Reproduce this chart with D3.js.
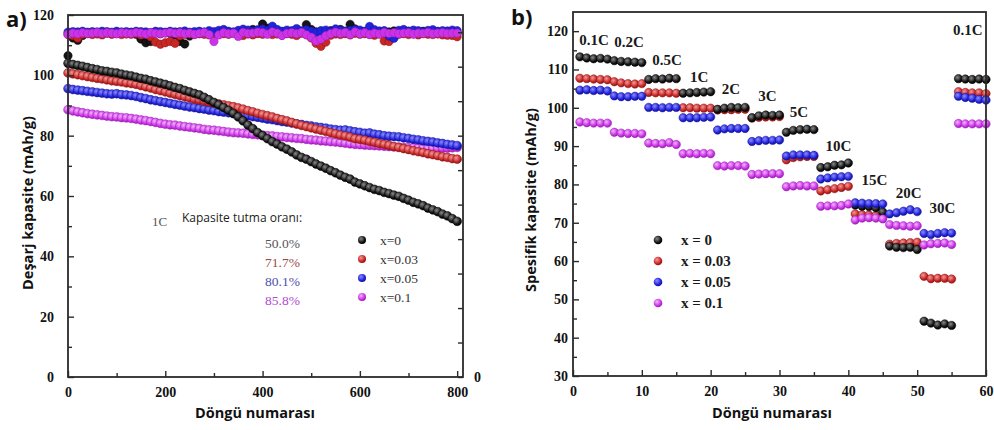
<!DOCTYPE html>
<html>
<head>
<meta charset="utf-8">
<script src="https://cdn.jsdelivr.net/npm/d3@7"></script>
<style>
  html, body { margin: 0; padding: 0; background: #fff; }
  svg { display: block; }
</style>
</head>
<body>
<svg id="chart" width="994" height="430"></svg>
<script>
// ---------- Panel a: long-term cycling at 1C (every 10th cycle) ----------
const cyclesA = d3.range(0, 801, 10);

const capA_x0 = [104.0,103.6,103.3,103.0,102.6,102.2,101.9,101.5,101.3,101.0,
  100.8,100.4,100.1,99.8,99.4,99.0,98.7,98.2,97.8,97.4,
  97.0,96.5,96.0,95.6,95.0,94.5,94.0,93.5,92.7,91.9,
  91.0,90.2,89.3,88.4,87.4,86.2,84.9,83.5,82.3,81.0,
  80.0,79.0,78.0,77.2,76.3,75.5,74.6,73.6,72.8,72.2,
  71.4,70.6,69.9,69.2,68.4,67.7,66.9,66.2,65.6,64.6,
  64.0,63.4,62.8,62.2,61.8,61.2,60.8,60.3,59.9,59.2,
  58.6,57.9,57.4,56.8,56.0,55.4,54.8,54.0,53.4,52.5,51.6];
const capA_x003 = [100.8,100.5,100.2,99.9,99.6,99.3,99.0,98.8,98.5,98.2,
  98.0,97.8,97.5,97.3,97.0,96.6,96.2,95.8,95.3,94.9,
  94.5,94.1,93.7,93.3,92.9,92.5,92.1,91.8,91.5,91.1,
  90.8,90.5,90.2,89.9,89.6,89.2,88.8,88.3,87.9,87.4,
  87.0,86.6,86.2,85.7,85.3,84.9,84.4,83.9,83.4,83.0,
  82.6,82.2,81.8,81.4,81.0,80.6,80.2,79.9,79.5,79.0,
  78.8,78.5,78.1,77.8,77.4,77.1,76.8,76.4,76.1,75.7,
  75.4,75.0,74.7,74.4,74.0,73.7,73.4,73.0,72.8,72.4,72.2];
const capA_x005 = [95.6,95.3,95.1,94.9,94.7,94.5,94.3,94.1,93.9,93.8,
  93.9,93.6,93.5,93.3,93.0,92.6,92.3,91.9,91.6,91.3,
  91.0,90.7,90.4,90.1,89.8,89.5,89.3,89.0,88.8,88.5,
  88.3,88.0,87.8,87.6,87.3,87.1,86.8,86.6,86.3,86.1,
  85.8,85.5,85.3,85.0,84.7,84.5,84.2,83.9,83.7,83.4,
  83.2,82.9,82.7,82.5,82.2,82.0,81.8,81.9,81.6,81.3,
  81.1,80.8,80.9,80.5,80.3,80.0,79.8,79.7,79.6,79.3,
  79.1,78.8,78.6,78.3,78.1,77.9,77.6,77.4,77.1,76.9,76.7];
const capA_x01 = [88.6,88.2,87.9,87.6,87.3,87.1,86.9,86.7,86.5,86.3,
  86.2,86.0,85.9,85.7,85.5,85.2,85.0,84.7,84.4,84.1,
  83.8,83.6,83.5,83.2,83.0,82.8,82.6,82.4,82.1,81.9,
  81.8,81.6,81.4,81.2,81.0,80.9,80.8,80.6,80.4,80.3,
  80.2,80.0,79.9,79.7,79.6,79.4,79.3,79.1,79.0,78.8,
  78.6,78.5,78.3,78.2,78.0,77.9,77.7,77.5,77.3,77.1,
  77.0,76.9,76.8,76.7,76.6,76.5,76.4,76.3,76.2,76.1,
  76.0,76.0,75.9,75.9,75.8,75.8,75.8,75.9,75.9,76.0,76.1];

// Coulombic efficiency band (read on the left axis scale)
const effA_x0 = [106.5,112.4,111.6,113.2,114.0,113.8,114.1,113.9,114.2,113.8,
  114.0,114.1,113.9,114.2,113.6,112.0,110.8,111.2,114.0,113.8,
  114.1,113.9,113.4,111.2,110.4,113.0,114.1,113.8,114.2,114.0,
  113.9,114.3,114.1,113.8,114.2,114.6,114.0,114.3,115.2,114.8,
  117.0,115.6,114.2,114.6,114.0,114.4,114.2,115.0,114.6,116.8,
  115.2,114.4,114.6,114.3,114.8,114.5,115.2,114.6,116.9,115.4,
  114.6,114.3,114.5,114.8,114.2,114.6,114.4,114.7,114.3,114.5,
  114.6,114.2,114.4,114.6,114.3,114.5,114.4,114.2,114.5,114.3,114.0];
const effA_x003 = [113.5,113.2,112.4,113.6,113.8,113.5,113.7,113.4,113.9,113.6,
  113.8,113.5,113.7,113.6,113.9,113.4,113.7,112.8,111.0,110.3,
  110.8,111.2,110.6,113.1,113.6,113.8,113.5,113.9,113.6,113.4,
  113.7,113.5,113.8,113.6,113.9,113.5,113.2,113.7,113.4,113.8,
  113.6,113.9,113.5,113.7,113.3,113.8,113.6,113.2,113.9,113.5,
  112.4,110.6,109.6,111.0,113.3,113.7,113.5,113.8,113.4,113.9,
  113.6,113.8,113.5,113.3,113.7,111.4,111.2,112.6,113.6,113.8,
  113.5,113.7,113.4,113.8,113.6,113.5,113.7,113.4,113.3,113.2,112.8];
const effA_x005 = [114.3,114.5,114.4,114.6,114.3,114.5,114.4,114.6,114.5,114.3,
  114.6,114.4,114.5,114.3,114.6,114.5,114.4,114.2,114.6,114.5,
  114.3,114.6,114.4,114.5,114.7,114.3,114.5,114.6,114.4,114.8,
  114.5,114.9,115.2,114.6,114.4,114.9,115.3,115.0,114.6,115.1,
  115.4,114.8,116.3,115.2,114.6,115.0,114.8,115.5,114.7,115.1,
  114.6,114.3,114.8,115.0,114.5,115.4,115.0,114.6,114.9,115.2,
  115.0,114.6,116.2,115.1,114.7,114.8,113.0,112.3,114.9,115.2,
  114.6,115.0,114.8,114.4,114.9,115.1,114.6,114.8,114.7,115.0,114.8];
const effA_x01 = [113.6,114.0,113.8,114.1,113.9,114.0,114.2,113.9,114.1,114.0,
  113.8,114.1,114.0,113.9,114.2,114.0,113.7,114.1,113.9,113.8,
  114.0,114.2,113.9,114.1,113.8,114.0,113.6,113.9,114.2,113.5,
  111.2,113.4,114.1,113.8,114.0,112.9,114.2,113.9,114.0,114.3,
  114.1,113.6,114.4,114.0,113.2,113.9,114.1,113.8,114.2,113.4,
  112.6,111.4,112.0,113.1,113.8,114.3,113.9,114.2,113.5,114.4,
  113.8,114.1,113.6,114.0,113.7,114.2,113.9,114.1,113.8,114.0,
  114.1,113.7,114.0,113.9,114.2,113.8,114.0,114.1,113.9,114.0,114.0];

const seriesNamesA = ["x=0", "x=0.03", "x=0.05", "x=0.1"];
const retentionA = ["50.0%", "71.7%", "80.1%", "85.8%"];
const ticksAX = [0, 200, 400, 600, 800];
const ticksAY = [0, 20, 40, 60, 80, 100, 120];

// ---------- Panel b: rate capability ----------
const cyclesB = d3.range(1, 61);
const rateNames = ["0.1C","0.2C","0.5C","1C","2C","3C","5C","10C","15C","20C","30C","0.1C"];

const capB_x0 = [113.3,113.0,112.8,112.9,112.7, 112.3,112.1,112.0,111.9,111.8,
  107.4,107.6,107.5,107.7,107.6, 103.8,103.9,104.0,104.1,104.2,
  99.6,99.9,100.1,100.0,100.1, 97.4,97.9,98.1,98.0,98.1,
  93.6,94.1,94.3,94.4,94.3, 84.4,84.6,85.0,85.1,85.6,
  74.6,74.3,74.2,73.9,72.8, 63.9,63.6,63.5,63.6,63.0,
  44.3,43.8,43.3,43.6,43.2, 107.6,107.5,107.4,107.5,107.4];
const capB_x003 = [107.7,107.6,107.5,107.4,107.3, 106.8,106.5,106.3,106.2,106.3,
  104.0,103.9,103.9,103.9,103.8, 100.0,100.0,99.9,99.9,99.9,
  99.4,99.5,99.5,99.6,99.6, 97.3,97.5,97.6,97.6,97.7,
  86.4,87.0,87.2,87.3,87.3, 78.3,78.6,78.9,79.2,79.5,
  72.3,72.1,72.0,71.8,71.4, 64.4,64.6,64.7,64.8,64.9,
  56.0,55.4,55.5,55.5,55.3, 104.2,104.0,103.9,103.9,103.7];
const capB_x005 = [104.6,104.7,104.5,104.6,104.4, 103.1,102.9,102.9,103.0,103.0,
  100.1,100.1,100.0,100.1,100.1, 97.4,97.4,97.4,97.5,97.6,
  94.2,94.5,94.6,94.6,94.6, 91.2,91.4,91.5,91.5,91.6,
  87.4,87.7,87.7,87.7,87.6, 81.4,81.7,81.9,82.0,82.1,
  75.2,75.1,75.0,75.0,74.9, 72.3,72.6,73.0,73.4,72.9,
  67.2,66.9,67.2,67.4,67.3, 103.0,102.7,102.5,102.2,102.0];
const capB_x01 = [96.3,96.1,96.0,96.0,96.0, 93.6,93.4,93.3,93.3,93.2,
  90.8,90.7,90.6,90.9,90.4, 88.0,88.1,88.0,88.1,88.0,
  84.9,84.8,84.9,84.9,84.8, 82.6,82.7,82.8,82.8,82.8,
  79.4,79.6,79.7,79.6,79.6, 74.3,74.4,74.4,74.5,74.9,
  70.7,71.2,71.3,71.2,71.0, 69.5,69.3,69.2,69.1,69.2,
  64.2,64.5,64.6,64.7,64.3, 95.9,95.8,95.8,95.8,95.8];

const seriesNamesB = ["x = 0", "x = 0.03", "x = 0.05", "x = 0.1"];
const ticksBX = [0, 10, 20, 30, 40, 50, 60];
const ticksBY = [30, 40, 50, 60, 70, 80, 90, 100, 110, 120];

// Rate annotation anchors in data units (cycle, capacity)
const rateLabelCycle = [0.9, 6.0, 11.5, 17.0, 21.6, 26.9, 31.5, 36.7, 41.9, 46.9, 51.8, 55.2];
const rateLabelCap   = [116.4, 115.9, 111.2, 106.8, 103.5, 101.7, 97.7, 88.6, 79.9, 76.5, 72.6, 119.0];

// ---------- styling ----------
const palette = [
  { base: "#151515", light: "#8a8a8a", edge: "#000000" },
  { base: "#c92626", light: "#f39a9a", edge: "#8e1616" },
  { base: "#2323dc", light: "#8c8cff", edge: "#13139a" },
  { base: "#cc33e8", light: "#f3b3ff", edge: "#9a1fb3" }
];
const retentionColors = ["#555555", "#a04848", "#4e4eae", "#b04ad0"];
const axisColor = "#2b2b2b";
const serif = "'Liberation Serif', 'Times New Roman', serif";
const sans = "'Open Sans', 'Noto Sans', sans-serif";

const svg = d3.select("#chart");
const defs = svg.append("defs");
palette.forEach((p, i) => {
  const g = defs.append("radialGradient").attr("id", "ball" + i)
    .attr("cx", "38%").attr("cy", "35%").attr("r", "65%");
  g.append("stop").attr("offset", "0%").attr("stop-color", p.light);
  g.append("stop").attr("offset", "70%").attr("stop-color", p.base);
  g.append("stop").attr("offset", "100%").attr("stop-color", p.edge);
});

function styleAxis(g) {
  g.select(".domain").remove();
  g.selectAll("line").attr("stroke", axisColor).attr("stroke-width", 1.4);
  g.selectAll("text").attr("fill", "#111").attr("font-family", serif)
    .attr("font-weight", "bold").attr("font-size", 14);
}

// ================= Panel a =================
const xA = d3.scaleLinear().domain([0, 812]).range([68, 463]);
const yA = d3.scaleLinear().domain([0, 120]).range([377, 15]);
const yA2 = d3.scaleLinear().domain([0, 105]).range([377, 15]);

const pa = svg.append("g");

// efficiency band first, then capacity curves
const effSets = [effA_x0, effA_x003, effA_x005, effA_x01];
effSets.forEach((vals, i) => {
  pa.append("g").selectAll("circle").data(vals).join("circle")
    .attr("cx", (d, k) => xA(cyclesA[k]))
    .attr("cy", d => yA(d))
    .attr("r", 4.2)
    .attr("fill", palette[i].base)
    .attr("stroke", palette[i].edge).attr("stroke-width", 0.5);
});

const capSetsA = [capA_x0, capA_x003, capA_x005, capA_x01];
[3, 2, 1, 0].forEach(i => {
  pa.append("g").selectAll("circle").data(capSetsA[i]).join("circle")
    .attr("cx", (d, k) => xA(cyclesA[k]))
    .attr("cy", d => yA(d))
    .attr("r", 4.4)
    .attr("fill", `url(#ball${i})`)
    .attr("stroke", palette[i].edge).attr("stroke-width", 0.5);
});

// axes of panel a
pa.append("g").attr("transform", "translate(68,0)")
  .call(d3.axisLeft(yA).tickValues(ticksAY).tickSize(-6).tickPadding(14))
  .call(styleAxis);
pa.append("g").attr("transform", "translate(68,0)")
  .call(d3.axisLeft(yA).tickValues(d3.range(10, 120, 20)).tickSize(-4).tickFormat(""))
  .call(styleAxis);
pa.append("g").attr("transform", "translate(0,377)")
  .call(d3.axisBottom(xA).tickValues(ticksAX).tickSize(-6).tickPadding(10))
  .call(styleAxis);
pa.append("g").attr("transform", "translate(0,377)")
  .call(d3.axisBottom(xA).tickValues([100, 300, 500, 700]).tickSize(-4).tickFormat(""))
  .call(styleAxis);
pa.append("g").attr("transform", "translate(463,0)")
  .call(d3.axisRight(yA2).tickValues(d3.range(0, 101, 10)).tickSize(-5).tickPadding(11)
    .tickFormat(d => d === 0 ? "0" : ""))
  .call(styleAxis);

pa.append("rect").attr("x", 68).attr("y", 15).attr("width", 395).attr("height", 362)
  .attr("fill", "none").attr("stroke", axisColor).attr("stroke-width", 1.8);

pa.append("text").attr("x", 255).attr("y", 418).attr("text-anchor", "middle")
  .attr("font-family", sans).attr("font-weight", "bold").attr("font-size", 14.5)
  .attr("fill", "#111").text("Döngü numarası");
pa.append("text").attr("transform", "translate(33,203) rotate(-90)").attr("text-anchor", "middle")
  .attr("font-family", sans).attr("font-weight", "bold").attr("font-size", 14.5)
  .attr("fill", "#111").text("Deşarj kapasite (mAh/g)");
pa.append("text").attr("x", 6).attr("y", 27)
  .attr("font-family", sans).attr("font-weight", "bold").attr("font-size", 22)
  .attr("fill", "#111").text("a)");

// legend of panel a
pa.append("text").attr("x", 152).attr("y", 226)
  .attr("font-family", serif).attr("font-size", 13).attr("fill", "#555").text("1C");
pa.append("text").attr("x", 182).attr("y", 222)
  .attr("font-family", sans).attr("font-size", 12).attr("fill", "#222").text("Kapasite tutma oranı:");
const legRowsA = [243, 262, 281, 300];
retentionA.forEach((t, i) => {
  pa.append("text").attr("x", 265).attr("y", legRowsA[i] + 5)
    .attr("font-family", serif).attr("font-size", 13.5).attr("fill", retentionColors[i]).text(t);
  pa.append("circle").attr("cx", 362).attr("cy", legRowsA[i] - 3).attr("r", 4)
    .attr("fill", `url(#ball${i})`);
  pa.append("text").attr("x", 380).attr("y", legRowsA[i] + 2)
    .attr("font-family", serif).attr("font-size", 13.5).attr("fill", "#333").text(seriesNamesA[i]);
});

// ================= Panel b =================
const xB = d3.scaleLinear().domain([0, 60]).range([573, 986]);
const yB = d3.scaleLinear().domain([30, 125]).range([376, 12]);
const pb = svg.append("g");

const capSetsB = [capB_x0, capB_x003, capB_x005, capB_x01];
[1, 0, 2, 3].forEach(i => {
  pb.append("g").selectAll("circle").data(capSetsB[i]).join("circle")
    .attr("cx", (d, k) => xB(cyclesB[k]))
    .attr("cy", d => yB(d))
    .attr("r", 4.2)
    .attr("fill", `url(#ball${i})`)
    .attr("stroke", palette[i].edge).attr("stroke-width", 0.5);
});

pb.append("g").attr("transform", "translate(573,0)")
  .call(d3.axisLeft(yB).tickValues(ticksBY).tickSize(-6).tickPadding(5))
  .call(styleAxis);
pb.append("g").attr("transform", "translate(573,0)")
  .call(d3.axisLeft(yB).tickValues(d3.range(35, 125, 10)).tickSize(-4).tickFormat(""))
  .call(styleAxis);
pb.append("g").attr("transform", "translate(0,376)")
  .call(d3.axisBottom(xB).tickValues(ticksBX).tickSize(-6).tickPadding(10))
  .call(styleAxis);
pb.append("g").attr("transform", "translate(0,376)")
  .call(d3.axisBottom(xB).tickValues(d3.range(5, 60, 10)).tickSize(-4).tickFormat(""))
  .call(styleAxis);

pb.append("rect").attr("x", 573).attr("y", 12).attr("width", 413).attr("height", 364)
  .attr("fill", "none").attr("stroke", axisColor).attr("stroke-width", 1.8);

rateNames.forEach((t, i) => {
  pb.append("text").attr("x", xB(rateLabelCycle[i])).attr("y", yB(rateLabelCap[i]))
    .attr("font-family", serif).attr("font-weight", "bold").attr("font-size", 15)
    .attr("fill", "#1a1a1a").text(t);
});

const legRowsB = [240, 261, 282, 303];
seriesNamesB.forEach((t, i) => {
  pb.append("circle").attr("cx", 658).attr("cy", legRowsB[i]).attr("r", 4.3)
    .attr("fill", `url(#ball${i})`);
  pb.append("text").attr("x", 681).attr("y", legRowsB[i] + 5)
    .attr("font-family", serif).attr("font-weight", "bold").attr("font-size", 15)
    .attr("fill", "#1a1a1a").text(t);
});

pb.append("text").attr("x", 772).attr("y", 418).attr("text-anchor", "middle")
  .attr("font-family", sans).attr("font-weight", "bold").attr("font-size", 14.5)
  .attr("fill", "#111").text("Döngü numarası");
pb.append("text").attr("transform", "translate(536,200) rotate(-90)").attr("text-anchor", "middle")
  .attr("font-family", sans).attr("font-weight", "bold").attr("font-size", 14.5)
  .attr("fill", "#111").text("Spesifik kapasite (mAh/g)");
pb.append("text").attr("x", 511).attr("y", 25)
  .attr("font-family", sans).attr("font-weight", "bold").attr("font-size", 22)
  .attr("fill", "#111").text("b)");
</script>
</body>
</html>
